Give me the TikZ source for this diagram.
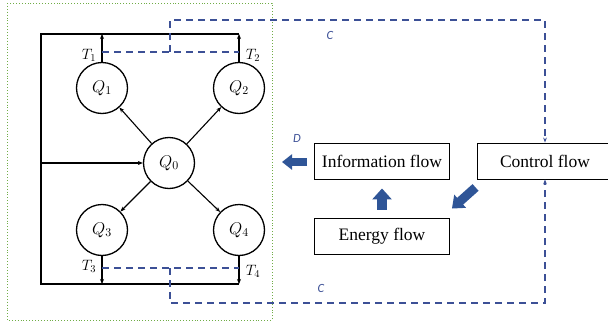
\RequirePackage{fix-cm}
\documentclass[tikz,border=0pt]{standalone}
\usepackage{fontspec}
\setmainfont{Liberation Serif}
\newfontfamily\calibri{Carlito}
\usetikzlibrary{arrows.meta, positioning}
\definecolor{flowblue}{RGB}{47,85,151}
\definecolor{ctrlblue}{RGB}{60,80,150}
\definecolor{framegreen}{RGB}{112,173,71}

\begin{document}
\begin{tikzpicture}[x=1pt, y=-1pt,
    tank/.style = {circle, draw, line width=1.3pt, minimum size=51pt,
        inner sep=0pt, font=\fontsize{17}{20}\selectfont},
    flowbox/.style = {draw, line width=0.9pt, minimum width=135pt,
        minimum height=36pt, font=\fontsize{17.5}{21}\selectfont},
    pipe/.style = {line width=1.1pt, -{Stealth[length=5pt, width=4pt]}},
    ctrlline/.style = {ctrlblue, line width=1.2pt, dash pattern=on 7pt off 5pt},
    bigarrow/.style = {flowblue, line width=8pt,
        -{Triangle[width=15pt, length=10pt]}},
    tlabel/.style = {font=\fontsize{15}{18}\selectfont},
    clabel/.style = {ctrlblue, font=\calibri\itshape\fontsize{12.5}{15}\selectfont}]
    \useasboundingbox (0,0) rectangle (608,324);
    % \draw [help lines] (0,0) grid (608,324);
    \draw [framegreen, dotted, line width=0.9pt] (7,3) rectangle (272,320);

    \node (Q0) [tank] at (169,163) {$Q_{0}$};
    \node (Q1) [tank] at (102,88) {$Q_{1}$};
    \node (Q2) [tank] at (239,88) {$Q_{2}$};
    \node (Q3) [tank] at (102,230) {$Q_{3}$};
    \node (Q4) [tank] at (239,230) {$Q_{4}$};
    \node (info) [flowbox] at (382,161) {Information flow};
    \node (energy) [flowbox] at (382,236) {Energy flow};
    \node (ctrl) [flowbox, minimum width=136pt] at (545,161) {Control flow};

    \coordinate (TL) at (41,34);
    \coordinate (BL) at (41,284);
    \draw [line width=1.4pt] (Q2 |- TL) -- (TL) -- (BL) -- (Q4 |- BL);

    \draw [pipe] (Q1) -- (Q1 |- TL);
    \draw [pipe] (Q2) -- (Q2 |- TL);
    \draw [pipe] (Q3) -- (Q3 |- BL);
    \draw [pipe] (Q4) -- (Q4 |- BL);
    \draw [pipe] (TL |- Q0) -- (Q0);
    \path [pipe]
        (Q0) edge (Q1)
        (Q0) edge (Q2)
        (Q0) edge (Q3)
        (Q0) edge (Q4);

    \node (T1) [tlabel] at (89,55) {$T_{1}$};
    \node (T2) [tlabel] at (253,55) {$T_{2}$};
    \node (T3) [tlabel] at (89,266) {$T_{3}$};
    \node (T4) [tlabel] at (253,271) {$T_{4}$};

    % control lines
    \coordinate (t1) at (102,52);
    \coordinate (t2) at (239,52);
    \coordinate (t12) at (170,52);
    \coordinate (cup) at (170,20);
    \coordinate (t3) at (102,268);
    \coordinate (t4) at (239,268);
    \coordinate (t34) at (170,268);
    \coordinate (cdn) at (170,303);
    \draw [ctrlline] (t1) -- (t2);
    \draw [ctrlline] (t3) -- (t4);
    \draw [ctrlline, -{Stealth[length=5pt]}] (t12) -- (cup) -| (ctrl.north);
    \draw [ctrlline, -{Stealth[length=5pt]}] (t34) -- (cdn) -| (ctrl.south);

    \node (C1) [clabel] at (330,35) {C};
    \node (C2) [clabel] at (321,288) {C};
    \node (D) [clabel] at (297,138) {D};

    \coordinate (dout) at (282,162);
    \draw [bigarrow, shorten <=7pt] (info.west |- dout) -- (dout);
    \draw [bigarrow, line width=10pt, -{Triangle[width=19pt, length=11pt]},
        shorten <=8pt, shorten >=9pt] (energy) -- (info);
    \draw [bigarrow, line width=9pt, -{Triangle[width=17pt, length=11pt]}]
        ([shift={(-1,8)}]ctrl.south west)
        -- ([shift={(2,-9)}]energy.north east);
\end{tikzpicture}
\end{document}
